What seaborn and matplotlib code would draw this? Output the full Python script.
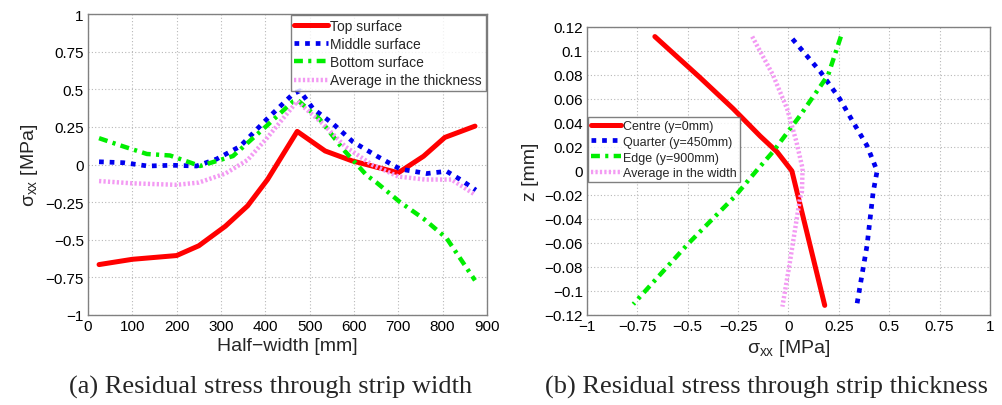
import numpy as np
import pandas as pd
import matplotlib
matplotlib.use("Agg")
import matplotlib.pyplot as plt
import seaborn as sns

sns.set_theme(style="white")
plt.rcParams["font.family"] = ["Liberation Sans", "DejaVu Sans"]
plt.rcParams["mathtext.fontset"] = "custom"
plt.rcParams["mathtext.rm"] = "Liberation Sans"
plt.rcParams["mathtext.it"] = "Liberation Sans"

# ---- (a) stress across the half-width ----
top_x = [25, 100, 200, 250, 310, 360, 405, 472, 535, 595, 700, 757, 805, 873]
top_s = [-0.665, -0.63, -0.605, -0.54, -0.41, -0.275, -0.10, 0.22, 0.09, 0.025, -0.055, 0.055, 0.18, 0.255]

mid_x = [25, 80, 135, 190, 245, 290, 343, 403, 463, 478, 508, 553, 598, 651, 704, 764, 809, 840, 875]
mid_s = [0.018, 0.012, -0.01, -0.005, -0.01, 0.036, 0.12, 0.30, 0.47, 0.49, 0.37, 0.27, 0.15, 0.057, -0.03, -0.06, -0.045, -0.10, -0.17]

bot_x = [25, 80, 133, 185, 253, 327, 403, 463, 472, 523, 576, 628, 651, 704, 757, 809, 873]
bot_s = [0.175, 0.12, 0.07, 0.06, -0.01, 0.056, 0.257, 0.42, 0.43, 0.30, 0.10, -0.07, -0.12, -0.25, -0.36, -0.49, -0.77]

avg_x = [25, 100, 200, 250, 310, 360, 405, 472, 530, 580, 640, 700, 760, 820, 873]
avg_s = [-0.11, -0.125, -0.135, -0.12, -0.06, 0.03, 0.18, 0.42, 0.27, 0.12, 0.0, -0.08, -0.10, -0.10, -0.20]

# ---- (b) stress through the thickness ----
cen_z = [0.112, 0.078, 0.052, 0.029, 0.016, 0.0, -0.112]
cen_s = [-0.663, -0.44, -0.275, -0.14, -0.057, 0.017, 0.18]

qua_z = [0.11, 0.083, 0.06, 0.041, 0.021, 0.0, -0.018, -0.062, -0.111]
qua_s = [0.02, 0.157, 0.255, 0.32, 0.39, 0.44, 0.42, 0.39, 0.34]

edg_z = [0.112, 0.08, 0.046, 0.016, 0.0, -0.021, -0.061, -0.111]
edg_s = [0.26, 0.197, 0.057, -0.077, -0.16, -0.265, -0.50, -0.77]

wav_z = [0.112, 0.08, 0.052, 0.024, 0.002, -0.017, -0.023, -0.076, -0.113]
wav_s = [-0.18, -0.077, -0.007, 0.04, 0.07, 0.067, 0.057, 0.007, -0.03]

RED = "#ff0000"
BLUE = "#0000ee"
GREEN = "#00ee00"
PINK = "#f39af3"

fig = plt.figure(figsize=(10.03, 4.06), dpi=100)
ax1 = fig.add_axes([0.0877, 0.2217, 0.3978, 0.7413])
ax2 = fig.add_axes([0.5852, 0.2217, 0.4018, 0.7094])

styles = [
    dict(color=RED, lw=3.6, linestyle="-"),
    dict(color=BLUE, lw=3.4, linestyle=(0, (1, 1.25))),
    dict(color=GREEN, lw=3.2, linestyle=(0, (2, 1.2, 0.7, 1.2))),
    dict(color=PINK, lw=3.2, linestyle=(0, (0.5, 0.5))),
]

series_a = [("Top surface", top_x, top_s), ("Middle surface", mid_x, mid_s),
            ("Bottom surface", bot_x, bot_s), ("Average in the thickness", avg_x, avg_s)]
for (name, xs, ys), st in zip(series_a, styles):
    sns.lineplot(x=xs, y=ys, ax=ax1, label=name, sort=False, estimator=None, **st)

series_b = [("Centre (y=0mm)", cen_s, cen_z), ("Quarter (y=450mm)", qua_s, qua_z),
            ("Edge (y=900mm)", edg_s, edg_z), ("Average in the width", wav_s, wav_z)]
for (name, xs, ys), st in zip(series_b, styles):
    sns.lineplot(x=xs, y=ys, ax=ax2, label=name, sort=False, estimator=None, **st)

for ax in (ax1, ax2):
    ax.grid(True, color="#b8b8b8", linestyle=(0, (1, 2)), linewidth=0.8)
    for sp in ax.spines.values():
        sp.set_color("#808080")
        sp.set_linewidth(1.0)
    ax.tick_params(direction="in", length=4, color="#808080", labelsize=11,
                   labelcolor="black", pad=3)

ax1.set_xlim(0, 900)
ax1.set_ylim(-1, 1)
ax1.set_xticks(np.arange(0, 901, 100))
ax1.set_yticks([-1, -0.75, -0.5, -0.25, 0, 0.25, 0.5, 0.75, 1])
ax1.set_yticklabels(["\u22121", "\u22120.75", "\u22120.5", "\u22120.25", "0", "0.25", "0.5", "0.75", "1"])
ax1.set_xlabel("Half\u2212width [mm]", fontsize=14, labelpad=3)
ax1.set_ylabel(r"$\sigma_{\mathrm{xx}}$ [MPa]", fontsize=14, labelpad=4)

ax2.set_xlim(-1, 1)
ax2.set_ylim(-0.12, 0.12)
ax2.set_xticks([-1, -0.75, -0.5, -0.25, 0, 0.25, 0.5, 0.75, 1])
ax2.set_xticklabels(["\u22121", "\u22120.75", "\u22120.5", "\u22120.25", "0", "0.25", "0.5", "0.75", "1"])
zt = [-0.12, -0.1, -0.08, -0.06, -0.04, -0.02, 0, 0.02, 0.04, 0.06, 0.08, 0.1, 0.12]
ax2.set_yticks(zt)
ax2.set_yticklabels([("\u2212" if v < 0 else "") + (f"{abs(v):g}") for v in zt])
ax2.set_xlabel(r"$\sigma_{\mathrm{xx}}$ [MPa]", fontsize=14, labelpad=3)
ax2.set_ylabel("z [mm]", fontsize=14, labelpad=4)

leg1 = ax1.legend(loc="upper right", fontsize=10, frameon=True, fancybox=False,
                  borderpad=0.25, labelspacing=0.3, handlelength=2.4, handletextpad=0.2,
                  borderaxespad=0.1)
leg1.get_frame().set_edgecolor("#606060")
leg1.get_frame().set_linewidth(1.0)

leg2 = ax2.legend(loc="upper left", bbox_to_anchor=(0.0, 0.69), fontsize=9, frameon=True,
                  fancybox=False, borderpad=0.25, labelspacing=0.3, handlelength=2.4,
                  handletextpad=0.2, borderaxespad=0.05)
leg2.get_frame().set_edgecolor("#606060")
leg2.get_frame().set_linewidth(1.0)

fig.text(0.27, 0.045, "(a) Residual stress through strip width", ha="center", va="center",
         fontsize=19, family=["Liberation Serif", "DejaVu Serif"])
fig.text(0.764, 0.045, "(b) Residual stress through strip thickness", ha="center", va="center",
         fontsize=19, family=["Liberation Serif", "DejaVu Serif"])

fig.savefig("out.png", dpi=100)
